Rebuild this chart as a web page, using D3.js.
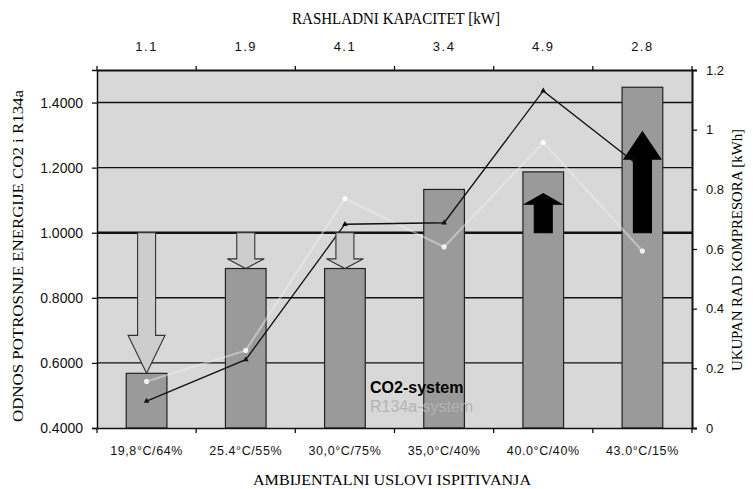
<!DOCTYPE html>
<html><head><meta charset="utf-8">
<script src="https://cdn.jsdelivr.net/npm/d3@7"></script>
<style>body{margin:0;background:#fff}</style>
</head><body>
<svg id="c" width="753" height="489"></svg>
<script>
const conditions = ["19,8°C/64%","25.4°C/55%","30,0°C/75%","35,0°C/40%","40.0°C/40%","43.0°C/15%"];
const capacity = ["1.1","1.9","4.1","3.4","4.9","2.8"];
const ratio = [0.568, 0.890, 0.890, 1.133, 1.187, 1.447];
const co2Work = [0.09, 0.229, 0.683, 0.688, 1.13, 0.87];
const r134aWork = [0.156, 0.26, 0.769, 0.607, 0.957, 0.593];
const arrowTips = [0.568, 0.89, 0.89, null, 1.12, 1.31];
const leftTicks = [0.4, 0.6, 0.8, 1.0, 1.2, 1.4];
const rightTicks = [0, 0.2, 0.4, 0.6, 0.8, 1.0, 1.2];

const svg = d3.select("#c");
const L = 97, R = 692, T = 70, B = 428;
const x = d3.scaleBand().domain(conditions).range([L, R]).padding(0);
const xTop = d3.scaleBand().domain(capacity).range([L, R]).padding(0);
const y = d3.scaleLinear().domain([0.4, 1.5]).range([B, T]);
const y2 = d3.scaleLinear().domain([0, 1.2]).range([B, T]);
const sans = "Liberation Sans, Arial, sans-serif";
const serif = "Liberation Serif, Times New Roman, serif";

svg.append("rect").attr("x", L).attr("y", T).attr("width", R - L).attr("height", B - T).attr("fill", "#d8d8d8");

// gridlines
svg.append("g").selectAll("line").data(leftTicks.filter(d => d > 0.4)).join("line")
  .attr("x1", L).attr("x2", R).attr("y1", d => y(d)).attr("y2", d => y(d))
  .attr("stroke", "#111").attr("stroke-width", d => d === 1.0 ? 2.6 : 1.4);

// bars
const bw = x.bandwidth() * 0.41;
svg.append("g").selectAll("rect").data(ratio).join("rect")
  .attr("x", (d, i) => x(conditions[i]) + x.bandwidth() / 2 - bw / 2)
  .attr("y", d => y(d)).attr("width", bw).attr("height", d => B - y(d))
  .attr("fill", "#9a9a9a").attr("stroke", "#222").attr("stroke-width", 1.2);

// R134a line (faint white)
const line = d3.line().x((d, i) => x(conditions[i]) + x.bandwidth() / 2).y(d => y2(d));
svg.append("path").datum(r134aWork).attr("d", line).attr("fill", "none")
  .attr("stroke", "#f2f2f2").attr("stroke-width", 2.2).attr("opacity", 0.45);
svg.append("g").selectAll("circle").data(r134aWork).join("circle")
  .attr("cx", (d, i) => x(conditions[i]) + x.bandwidth() / 2).attr("cy", d => y2(d))
  .attr("r", 2.6).attr("fill", "#fff").attr("opacity", 0.85);

// CO2 line
svg.append("path").datum(co2Work).attr("d", line).attr("fill", "none")
  .attr("stroke", "#111").attr("stroke-width", 1.3);
svg.append("g").selectAll("path").data(co2Work).join("path")
  .attr("d", d3.symbol(d3.symbolTriangle, 14))
  .attr("transform", (d, i) => `translate(${x(conditions[i]) + x.bandwidth() / 2},${y2(d)})`)
  .attr("fill", "#111");

// arrows
const base = 1.0;
arrowTips.forEach((tip, i) => {
  if (tip == null) return;
  const cx = x(conditions[i]) + x.bandwidth() / 2;
  const y0 = y(base), y1 = y(tip);
  const len = y1 - y0;
  const head = len * 0.27;
  const sw = 9, hw = 18.5;
  const yh = y1 - head;
  const pts = [[cx - sw, y0], [cx + sw, y0], [cx + sw, yh], [cx + hw, yh], [cx, y1], [cx - hw, yh], [cx - sw, yh]];
  const down = tip < base;
  svg.append("path").attr("d", "M" + pts.map(p => p.join(",")).join("L") + "Z")
    .attr("fill", down ? "#cdcdcd" : "#000").attr("stroke", down ? "#333" : "#000").attr("stroke-width", 1.1);
});

// axes
const gL = svg.append("g").attr("transform", `translate(${L},0)`)
  .call(d3.axisLeft(y).tickValues(leftTicks).tickFormat(d3.format(".4f")).tickSize(5));
const gR = svg.append("g").attr("transform", `translate(${R},0)`)
  .call(d3.axisRight(y2).tickValues(rightTicks).tickFormat(d => d === 1 ? "1" : d === 0 ? "0" : d3.format(".1f")(d)).tickSize(5));
const gB = svg.append("g").attr("transform", `translate(0,${B})`)
  .call(d3.axisBottom(x).tickSize(0).tickPadding(18));
const gT = svg.append("g").attr("transform", `translate(0,${T})`)
  .call(d3.axisTop(xTop).tickSize(0).tickPadding(19));
[gL, gR, gB, gT].forEach(g => {
  g.selectAll("text").attr("font-family", sans).attr("fill", "#111");
  g.selectAll("line").attr("stroke", "#111").attr("stroke-width", 1.3);
  g.select(".domain").attr("stroke", "#111");
});
gL.selectAll("text").attr("font-size", 14).attr("x", -14);
gR.selectAll("text").attr("font-size", 13).attr("x", 14);
gB.selectAll("text").attr("font-size", 12.5).attr("letter-spacing", 0.6);
gT.selectAll("text").attr("font-size", 13).attr("letter-spacing", 1.5);
gL.select(".domain").attr("stroke-width", 1.5);
gR.select(".domain").attr("stroke-width", 2);
gB.select(".domain").attr("stroke-width", 1.6);
gT.select(".domain").attr("stroke-width", 2.2);

// band boundary ticks top and bottom
const bounds = d3.range(conditions.length + 1).map(i => L + i * x.step());
svg.append("g").selectAll("line").data(bounds).join("line")
  .attr("x1", d => d).attr("x2", d => d).attr("y1", B).attr("y2", B + 5).attr("stroke", "#111").attr("stroke-width", 1.3);
svg.append("g").selectAll("line").data(bounds).join("line")
  .attr("x1", d => d).attr("x2", d => d).attr("y1", T).attr("y2", T - 4).attr("stroke", "#111").attr("stroke-width", 1.3);

// titles
svg.append("text").attr("x", 396).attr("y", 24).attr("text-anchor", "middle")
  .attr("font-family", serif).attr("font-size", 16).attr("textLength", 208).attr("lengthAdjust", "spacingAndGlyphs")
  .text("RASHLADNI KAPACITET [kW]");
svg.append("text").attr("x", 392).attr("y", 485).attr("text-anchor", "middle")
  .attr("font-family", serif).attr("font-size", 15).attr("textLength", 278).attr("lengthAdjust", "spacingAndGlyphs")
  .text("AMBIJENTALNI USLOVI ISPITIVANJA");
svg.append("text").attr("transform", "translate(23,256) rotate(-90)").attr("text-anchor", "middle")
  .attr("font-family", serif).attr("font-size", 15).attr("textLength", 332).attr("lengthAdjust", "spacingAndGlyphs")
  .text("ODNOS POTROSNJE ENERGIJE CO2 i R134a");
svg.append("text").attr("transform", "translate(742,250) rotate(-90)").attr("text-anchor", "middle")
  .attr("font-family", serif).attr("font-size", 15).attr("textLength", 242).attr("lengthAdjust", "spacingAndGlyphs")
  .text("UKUPAN RAD KOMPRESORA [kWh]");

// legend
svg.append("text").attr("x", 370).attr("y", 393).attr("font-family", sans).attr("font-weight", "bold")
  .attr("font-size", 16).attr("fill", "#000").text("CO2-system");
svg.append("text").attr("x", 370).attr("y", 412).attr("font-family", sans)
  .attr("font-size", 16).attr("fill", "#b4b4b4").text("R134a-system");
</script>
</body></html>
